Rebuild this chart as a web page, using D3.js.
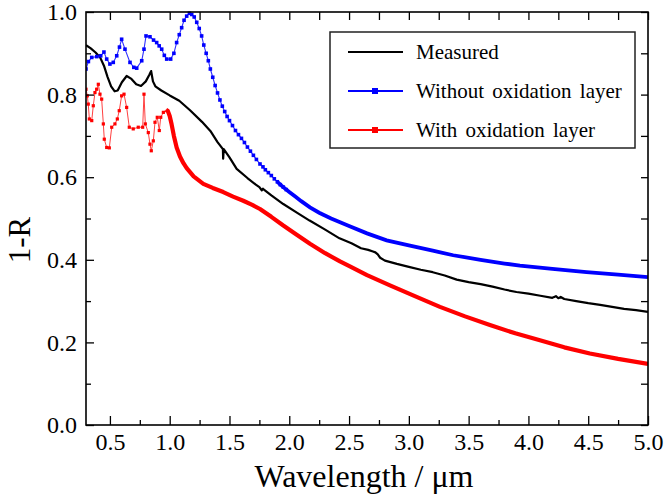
<!DOCTYPE html>
<html>
<head>
<meta charset="utf-8">
<script src="https://cdn.jsdelivr.net/npm/d3@7"></script>
<style>
  body { margin: 0; background: #fff; }
</style>
</head>
<body>
<div id="chart"></div>
<script>
// measured 1-R curve (black)
const measured = [
  [0.30,0.920],[0.34,0.912],[0.38,0.902],[0.42,0.889],[0.45,0.870],[0.48,0.843],[0.51,0.820],
  [0.54,0.808],[0.565,0.810],[0.60,0.830],[0.64,0.845],[0.68,0.838],[0.72,0.825],[0.76,0.821],
  [0.80,0.832],[0.83,0.848],[0.845,0.857],[0.852,0.845],[0.86,0.832],[0.88,0.820],[0.93,0.810],
  [1.00,0.798],[1.08,0.785],[1.17,0.762],[1.27,0.734],[1.34,0.712],[1.40,0.685],[1.445,0.668],
  [1.447,0.645],[1.452,0.668],[1.50,0.648],[1.56,0.620],[1.65,0.598],[1.72,0.582],[1.75,0.576],
  [1.77,0.568],[1.78,0.572],[1.85,0.556],[1.95,0.535],[2.07,0.513],[2.17,0.495],[2.30,0.473],
  [2.42,0.452],[2.52,0.440],[2.60,0.428],[2.66,0.424],[2.70,0.420],[2.72,0.418],[2.74,0.413],
  [2.76,0.405],[2.80,0.398],[2.90,0.390],[3.00,0.383],[3.10,0.376],[3.20,0.370],[3.30,0.362],
  [3.40,0.352],[3.50,0.346],[3.60,0.341],[3.70,0.335],[3.80,0.328],[3.90,0.322],[4.00,0.318],
  [4.10,0.313],[4.20,0.308],[4.23,0.312],[4.25,0.307],[4.27,0.310],[4.30,0.305],[4.40,0.300],
  [4.50,0.295],[4.60,0.291],[4.70,0.286],[4.80,0.281],[4.90,0.278],[5.00,0.274]
];

// simulation without oxidation layer (blue)
const withoutOx = [
  [0.300,0.862],[0.320,0.880],[0.348,0.890],[0.390,0.892],[0.423,0.894],[0.450,0.903],[0.473,0.886],
  [0.500,0.874],[0.528,0.878],[0.557,0.894],[0.580,0.915],[0.598,0.934],[0.626,0.910],[0.668,0.878],
  [0.700,0.866],[0.724,0.864],[0.766,0.882],[0.785,0.910],[0.802,0.942],[0.835,0.940],[0.865,0.932],
  [0.891,0.926],[0.912,0.918],[0.933,0.910],[0.955,0.895],[0.975,0.886],[1.008,0.886],[1.035,0.900],
  [1.058,0.926],[1.080,0.945],[1.100,0.962],[1.120,0.980],[1.142,0.990],[1.165,0.997],[1.184,0.994],
  [1.205,0.988],[1.226,0.975],[1.247,0.960],[1.267,0.942],[1.285,0.920],[1.305,0.900],[1.323,0.882],
  [1.34,0.862],[1.36,0.842],[1.38,0.822],[1.40,0.804],[1.42,0.787],[1.44,0.772],[1.46,0.759],
  [1.48,0.747],[1.50,0.737],[1.525,0.725],[1.55,0.713],[1.575,0.703],[1.60,0.694],[1.625,0.684],
  [1.65,0.673],[1.675,0.663],[1.70,0.653],[1.725,0.643],[1.755,0.632],[1.78,0.625],[1.80,0.618],
  [1.825,0.611],[1.85,0.604],[1.875,0.596],[1.90,0.589],[1.925,0.582],[1.95,0.576],[1.975,0.570],
  [2.00,0.564],[2.05,0.553],[2.10,0.542],[2.173,0.527],[2.25,0.514],[2.35,0.500],[2.50,0.482],
  [2.65,0.464],[2.814,0.447],[3.00,0.435],[3.20,0.422],[3.371,0.411],[3.60,0.400],[3.80,0.391],
  [3.929,0.386],[4.20,0.378],[4.486,0.370],[4.75,0.364],[5.00,0.358]
];

// simulation with oxidation layer (red)
const withOx = [
  [0.300,0.813],[0.311,0.797],[0.319,0.777],[0.328,0.741],[0.348,0.737],[0.361,0.773],[0.375,0.805],
  [0.389,0.813],[0.403,0.825],[0.417,0.801],[0.431,0.789],[0.445,0.729],[0.453,0.692],[0.473,0.672],
  [0.495,0.671],[0.515,0.721],[0.542,0.729],[0.562,0.741],[0.578,0.761],[0.598,0.797],[0.618,0.801],
  [0.640,0.769],[0.662,0.721],[0.695,0.717],[0.737,0.721],[0.774,0.721],[0.785,0.801],[0.796,0.729],
  [0.821,0.708],[0.835,0.680],[0.846,0.664],[0.863,0.688],[0.877,0.733],[0.896,0.745],[0.913,0.713],
  [0.925,0.745],[0.947,0.757],[0.969,0.763],[0.985,0.760],[1.000,0.748],[1.016,0.728],[1.035,0.700],
  [1.058,0.672],[1.086,0.650],[1.115,0.634],[1.142,0.622],[1.20,0.602],[1.281,0.584],[1.36,0.574],
  [1.448,0.564],[1.53,0.553],[1.615,0.543],[1.69,0.533],[1.755,0.523],[1.85,0.504],[1.95,0.483],
  [2.05,0.463],[2.173,0.439],[2.30,0.416],[2.424,0.396],[2.507,0.384],[2.65,0.363],[2.842,0.338],
  [3.05,0.312],[3.26,0.286],[3.47,0.263],[3.678,0.242],[3.89,0.222],[4.096,0.205],[4.30,0.188],
  [4.514,0.173],[4.75,0.160],[5.00,0.148]
];

const xMajor = [0.5, 1.0, 1.5, 2.0, 2.5, 3.0, 3.5, 4.0, 4.5, 5.0];
const xMinor = [0.75, 1.25, 1.75, 2.25, 2.75, 3.25, 3.75, 4.25, 4.75];
const yMajor = [0.0, 0.2, 0.4, 0.6, 0.8, 1.0];
const yMinor = [0.1, 0.3, 0.5, 0.7, 0.9];

const legendNames = ["Measured", "Without oxidation layer", "With oxidation layer"];
const legendColors = ["#000000", "#0000ff", "#ff0000"];

const serif = '"Liberation Serif"';

document.addEventListener('DOMContentLoaded', function () {
  const width = 666;
  const height = 500;
  const left = 86, right = 648, top = 12, bottom = 425;

  const svg = d3.select("#chart")
    .append("svg")
    .attr("width", width)
    .attr("height", height);

  const x = d3.scaleLinear().domain([0.3, 5.0]).range([left, right]);
  const y = d3.scaleLinear().domain([0, 1]).range([bottom, top]);

  svg.append("clipPath").attr("id", "plot-clip")
    .append("rect")
    .attr("x", left).attr("y", top - 2)
    .attr("width", right - left).attr("height", bottom - top + 2);

  const line = d3.line()
    .x(d => x(d[0]))
    .y(d => y(d[1]));

  const plot = svg.append("g").attr("clip-path", "url(#plot-clip)");

  // black measured line
  plot.append("path")
    .datum(measured)
    .attr("fill", "none")
    .attr("stroke", "#000")
    .attr("stroke-width", 2.2)
    .attr("stroke-linejoin", "round")
    .attr("d", line);

  // blue: thin line, thick where points are dense, square markers
  plot.append("path")
    .datum(withoutOx)
    .attr("fill", "none")
    .attr("stroke", "#3030ff")
    .attr("stroke-width", 1.1)
    .attr("d", line);
  plot.append("path")
    .datum(withoutOx.filter(d => d[0] >= 1.9))
    .attr("fill", "none")
    .attr("stroke", "#0000ff")
    .attr("stroke-width", 3.8)
    .attr("d", line);
  plot.selectAll(".mk-blue")
    .data(withoutOx.filter(d => d[0] < 2.0))
    .enter()
    .append("rect")
    .attr("class", "mk-blue")
    .attr("x", d => x(d[0]) - 1.8)
    .attr("y", d => y(d[1]) - 1.8)
    .attr("width", 3.6)
    .attr("height", 3.6)
    .attr("fill", "#0000ff");

  // red: thin line, thick after the peak, square markers
  plot.append("path")
    .datum(withOx)
    .attr("fill", "none")
    .attr("stroke", "#ff4040")
    .attr("stroke-width", 1)
    .attr("d", line);
  plot.append("path")
    .datum(withOx.filter(d => d[0] >= 0.96))
    .attr("fill", "none")
    .attr("stroke", "#ff0000")
    .attr("stroke-width", 4.2)
    .attr("stroke-linejoin", "round")
    .attr("d", line);
  plot.selectAll(".mk-red")
    .data(withOx.filter(d => d[0] < 0.96))
    .enter()
    .append("rect")
    .attr("class", "mk-red")
    .attr("x", d => x(d[0]) - 1.6)
    .attr("y", d => y(d[1]) - 1.6)
    .attr("width", 3.2)
    .attr("height", 3.2)
    .attr("fill", "#ff0000");

  // axes: ticks point inward
  const bottomAxis = svg.append("g")
    .attr("transform", `translate(0,${bottom})`)
    .call(d3.axisBottom(x).tickValues(xMajor).tickSize(-9).tickPadding(8).tickFormat(d3.format(".1f")));
  svg.append("g")
    .attr("transform", `translate(0,${bottom})`)
    .call(d3.axisBottom(x).tickValues(xMinor).tickSize(-5).tickFormat(""));
  svg.append("g")
    .attr("transform", `translate(0,${top})`)
    .call(d3.axisTop(x).tickValues(xMajor.concat(xMinor)).tickSize(-8).tickFormat(""));

  const leftAxis = svg.append("g")
    .attr("transform", `translate(${left},0)`)
    .call(d3.axisLeft(y).tickValues(yMajor).tickSize(-8).tickPadding(9).tickFormat(d3.format(".1f")));
  svg.append("g")
    .attr("transform", `translate(${left},0)`)
    .call(d3.axisLeft(y).tickValues(yMinor).tickSize(-5).tickFormat(""));
  svg.append("g")
    .attr("transform", `translate(${right},0)`)
    .call(d3.axisRight(y).tickValues(yMajor.concat(yMinor)).tickSize(-7).tickFormat(""));

  svg.selectAll(".domain").remove();
  svg.selectAll(".tick line").attr("stroke", "#000").attr("stroke-width", 1.3);
  bottomAxis.selectAll("text")
    .style("font-family", serif)
    .style("font-size", "24px")
    .attr("fill", "#000");
  leftAxis.selectAll("text")
    .style("font-family", serif)
    .style("font-size", "24px")
    .attr("fill", "#000");

  // frame
  svg.append("rect")
    .attr("x", left).attr("y", top)
    .attr("width", right - left).attr("height", bottom - top)
    .attr("fill", "none")
    .attr("stroke", "#000")
    .attr("stroke-width", 1.6);

  // axis titles
  svg.append("text")
    .attr("x", 364)
    .attr("y", 487)
    .attr("text-anchor", "middle")
    .style("font-family", serif)
    .style("font-size", "32px")
    .text("Wavelength / \u03bcm");

  svg.append("text")
    .attr("transform", "translate(30,240) rotate(-90)")
    .attr("text-anchor", "middle")
    .style("font-family", serif)
    .style("font-size", "31px")
    .text("1-R");

  // legend
  const legend = svg.append("g");
  legend.append("rect")
    .attr("x", 330).attr("y", 32)
    .attr("width", 305).attr("height", 116)
    .attr("fill", "#fff")
    .attr("stroke", "#222")
    .attr("stroke-width", 1.5);

  legendNames.forEach((name, i) => {
    const ly = 52 + i * 39;
    legend.append("line")
      .attr("x1", 348).attr("x2", 403)
      .attr("y1", ly).attr("y2", ly)
      .attr("stroke", legendColors[i])
      .attr("stroke-width", 2.2);
    if (i > 0) {
      legend.append("rect")
        .attr("x", 372).attr("y", ly - 3)
        .attr("width", 6).attr("height", 6)
        .attr("fill", legendColors[i]);
    }
    legend.append("text")
      .attr("x", 416)
      .attr("y", ly + 7)
      .style("font-family", serif)
      .style("font-size", "21px")
      .style("word-spacing", "3px")
      .text(name);
  });
});
</script>
</body>
</html>
